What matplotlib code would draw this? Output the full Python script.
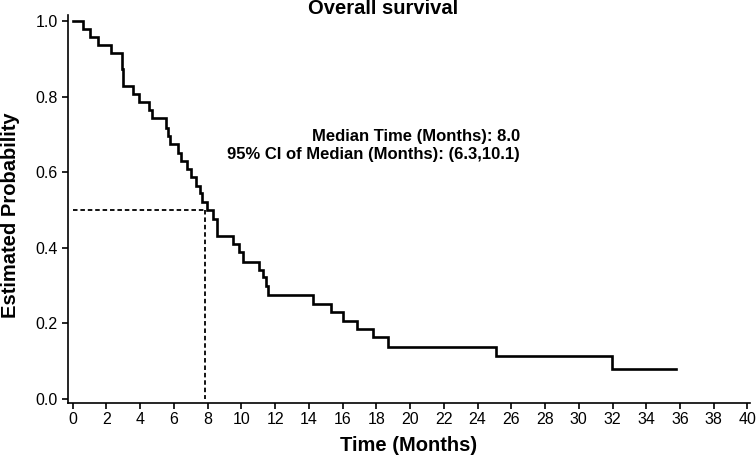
import matplotlib
matplotlib.use("Agg")
import matplotlib.pyplot as plt

plt.rcParams['font.family'] = ['Liberation Sans', 'DejaVu Sans']

# Kaplan-Meier step data (time in months, survival probability after event)
times = [0.0, 0.59, 1.03, 1.52, 2.25, 2.90, 3.00, 3.56, 3.91, 4.54, 4.68, 5.53,
         5.67, 5.77, 6.21, 6.43, 6.76, 6.99, 7.29, 7.55, 7.68, 7.94, 8.33, 8.57,
         9.52, 9.88, 10.08, 11.06, 11.30, 11.44, 11.59, 14.23, 15.31, 16.04,
         16.87, 17.82, 18.67, 25.09, 31.95, 35.77]
surv = [1.000, 0.980, 0.959, 0.938, 0.917, 0.874, 0.829, 0.807, 0.787, 0.765,
        0.743, 0.718, 0.697, 0.675, 0.652, 0.631, 0.609, 0.587, 0.565, 0.545,
        0.523, 0.501, 0.477, 0.432, 0.410, 0.389, 0.364, 0.342, 0.322, 0.300,
        0.275, 0.252, 0.230, 0.207, 0.185, 0.163, 0.139, 0.114, 0.079, 0.079]

median_time = 7.85
median_prob = 0.5
title = "Overall survival"
annot_lines = ["Median Time (Months): 8.0", "95% CI of Median (Months): (6.3,10.1)"]
xticks = list(range(0, 41, 2))
yticks = [0.0, 0.2, 0.4, 0.6, 0.8, 1.0]

W, H = 756, 459
fig = plt.figure(figsize=(W / 100, H / 100), dpi=100)
ax = fig.add_axes([67.7 / W, 1 - 402.7 / H, (750 - 67.7) / W, (402.7 - 15) / H])

ax.step(times, surv, where='post', color='black', lw=1.9, solid_joinstyle='miter')
ax.plot([0, median_time], [median_prob, median_prob], color='black', lw=1.3,
        linestyle=(0, (2.5, 1.6)))
ax.plot([median_time, median_time], [median_prob, 0.0], color='black', lw=1.3,
        linestyle=(0, (2.5, 1.6)))

ax.set_xlim(-0.3, 40.15)
ax.set_ylim(-0.0098, 1.017)
ax.set_xticks(xticks)
ax.set_yticks(yticks)
ax.set_yticklabels([f"{v:.1f}" for v in yticks])
for s in ['top', 'right']:
    ax.spines[s].set_visible(False)
for s in ['left', 'bottom']:
    ax.spines[s].set_linewidth(1.2)
ax.tick_params(direction='out', length=4, width=1.2, labelsize=11.5, pad=3)

ax.set_xlabel("Time (Months)", fontsize=14.5, fontweight='bold', labelpad=6)
fig.text(11 / W, 1 - 215 / H, "Estimated Probability", rotation=90, fontsize=14.5,
         fontweight='bold', ha='center', va='center')
fig.text(383 / W, 1 - 9 / H, title, fontsize=14.5, fontweight='bold',
         ha='center', va='center')
fig.text(520 / W, 1 - 136 / H, annot_lines[0], fontsize=12, fontweight='bold',
         ha='right', va='center')
fig.text(520 / W, 1 - 155 / H, annot_lines[1], fontsize=12, fontweight='bold',
         ha='right', va='center')

fig.savefig("out.png", dpi=100)
